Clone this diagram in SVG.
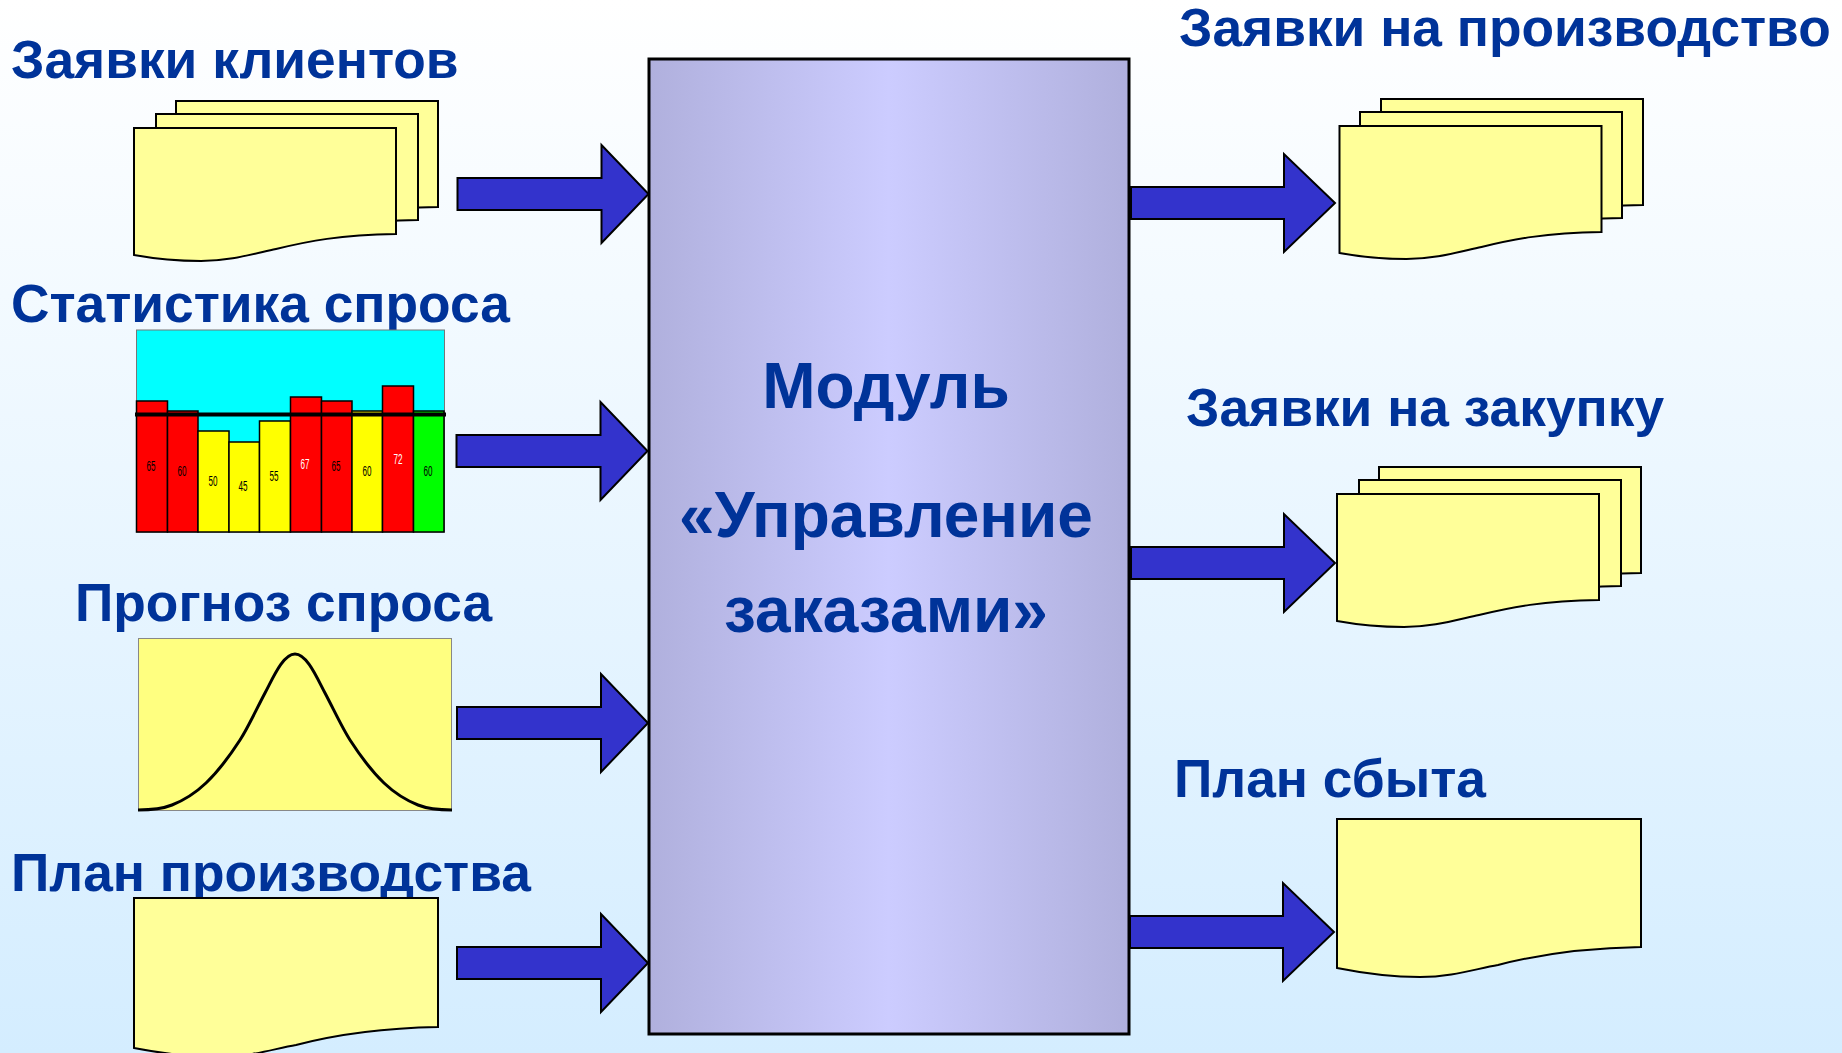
<svg xmlns="http://www.w3.org/2000/svg" width="1842" height="1053" viewBox="0 0 1842 1053">
<style>
.t{font-family:"Liberation Sans",Arial,sans-serif;font-weight:700;fill:#003399;font-size:53.300px}
.c{font-size:64px;text-anchor:middle}
.d{fill:#ffff99;stroke:#000;stroke-width:2}
.a{fill:#3333cc;stroke:#000;stroke-width:2}
.b{stroke:#000;stroke-width:1.5}
.n{font-family:"Liberation Sans",Arial,sans-serif;font-size:14px;text-anchor:middle;fill:#000}
.w{fill:#fff}
</style>
<defs>
<linearGradient id="bg" x1="0" y1="0" x2="0" y2="1"><stop offset="0" stop-color="#ffffff"/><stop offset="1" stop-color="#d4edff"/></linearGradient>
<linearGradient id="mg" x1="0" y1="0" x2="1" y2="0"><stop offset="0" stop-color="#b0b0dd"/><stop offset="0.5" stop-color="#ccccff"/><stop offset="1" stop-color="#b0b0dd"/></linearGradient>
<path id="doc" d="M0 0H262V106C205 107 175 113 142 121C115 127 95 133 67 133C45 133 22 131 0 127Z"/>
<path id="arr" d="M0 -16H144V-49L191 0L144 49V16H0Z"/>
<path id="arr2" d="M0 -16H153V-49L204 0L153 49V16H0Z"/>
</defs>
<rect width="1842" height="1053" fill="url(#bg)"/>
<g id="node-main"><rect x="649" y="59" width="480" height="975" fill="url(#mg)" stroke="#000" stroke-width="3"/>
<text class="t c" x="886" y="408">Модуль</text><text class="t c" x="886" y="537">«Управление</text><text class="t c" x="886" y="632">заказами»</text></g>
<g id="node-orders"><text class="t" x="11" y="78">Заявки клиентов</text>
<use href="#doc" class="d" transform="translate(176 101)"/><use href="#doc" class="d" transform="translate(156 114)"/><use href="#doc" class="d" transform="translate(134 128)"/></g>
<g id="node-stat"><text class="t" x="11" y="322">Статистика спроса</text>
<rect x="136.500" y="330" width="308" height="202" fill="#00ffff" stroke="#777" stroke-width="1"/>
<g class="b">
<rect x="136.500" y="401" width="31" height="131" fill="#f00"/><rect x="167.500" y="411" width="30.500" height="121" fill="#f00"/><rect x="198" y="431" width="31" height="101" fill="#ff0"/><rect x="229" y="442" width="30.500" height="90" fill="#ff0"/><rect x="259.500" y="421" width="31" height="111" fill="#ff0"/><rect x="290.500" y="397" width="31" height="135" fill="#f00"/><rect x="321.500" y="401" width="30.500" height="131" fill="#f00"/><rect x="352" y="411" width="30.500" height="121" fill="#ff0"/><rect x="382.500" y="386" width="31" height="146" fill="#f00"/><rect x="413.500" y="411" width="30.500" height="121" fill="#0f0"/>
</g>
<path d="M135 414.500H446" stroke="#000" stroke-width="4"/>
<text class="n" x="151" y="471" textLength="9" lengthAdjust="spacingAndGlyphs">65</text><text class="n" x="182" y="476" textLength="9" lengthAdjust="spacingAndGlyphs">60</text><text class="n" x="213" y="486" textLength="9" lengthAdjust="spacingAndGlyphs">50</text><text class="n" x="243" y="491" textLength="9" lengthAdjust="spacingAndGlyphs">45</text><text class="n" x="274" y="481" textLength="9" lengthAdjust="spacingAndGlyphs">55</text><text class="n w" x="305" y="469" textLength="9" lengthAdjust="spacingAndGlyphs">67</text><text class="n" x="336" y="471" textLength="9" lengthAdjust="spacingAndGlyphs">65</text><text class="n" x="367" y="476" textLength="9" lengthAdjust="spacingAndGlyphs">60</text><text class="n w" x="398" y="464" textLength="9" lengthAdjust="spacingAndGlyphs">72</text><text class="n" x="428" y="476" textLength="9" lengthAdjust="spacingAndGlyphs">60</text></g>
<g id="node-forecast"><text class="t" x="75" y="621">Прогноз спроса</text>
<rect x="138.500" y="638.500" width="313" height="172" fill="#ffff80" stroke="#888" stroke-width="1"/>
<path d="M138 810C149 810 161 809.400 172 805C183 800.600 195 793.500 206 783C217 772.500 229 757 240 740C248 727.600 256 710 265 693C273 678 283 654 295 654C307 654 317 678 325 693C334 710 342 727.600 350 740C361 757 373 772.500 384 783C395 793.500 407 800.600 418 805C429 809.400 441 810 452 810" fill="none" stroke="#000" stroke-width="3"/></g>
<g id="node-plan"><text class="t" x="11" y="891">План производства</text>
<path class="d" d="M134 898H438V1027C383 1028 338 1034 296 1045C273 1049 250 1057 218 1057C188 1057 160 1053 134 1048Z"/></g>
<g id="node-req-prod"><text class="t" x="1179" y="46">Заявки на производство</text>
<use href="#doc" class="d" transform="translate(1381 99)"/><use href="#doc" class="d" transform="translate(1360 112)"/><use href="#doc" class="d" transform="translate(1339.500 126)"/></g>
<g id="node-req-buy"><text class="t" x="1186" y="426">Заявки на закупку</text>
<use href="#doc" class="d" transform="translate(1379 467)"/><use href="#doc" class="d" transform="translate(1359 480)"/><use href="#doc" class="d" transform="translate(1337 494)"/></g>
<g id="node-sales"><text class="t" x="1174" y="797">План сбыта</text>
<path class="d" d="M1337 819H1641V947C1585 948 1540 954 1498 965C1475 969 1452 977 1420 977C1390 977 1362 973 1337 968Z"/></g>
<g id="connectors">
<use href="#arr" class="a" transform="translate(457.500 194)"/>
<use href="#arr" class="a" transform="translate(456.500 451)"/>
<use href="#arr" class="a" transform="translate(457 723)"/>
<use href="#arr" class="a" transform="translate(457 963)"/>
<use href="#arr2" class="a" transform="translate(1131 203)"/>
<use href="#arr2" class="a" transform="translate(1131 563)"/>
<use href="#arr2" class="a" transform="translate(1130 932)"/>
</g>
</svg>
